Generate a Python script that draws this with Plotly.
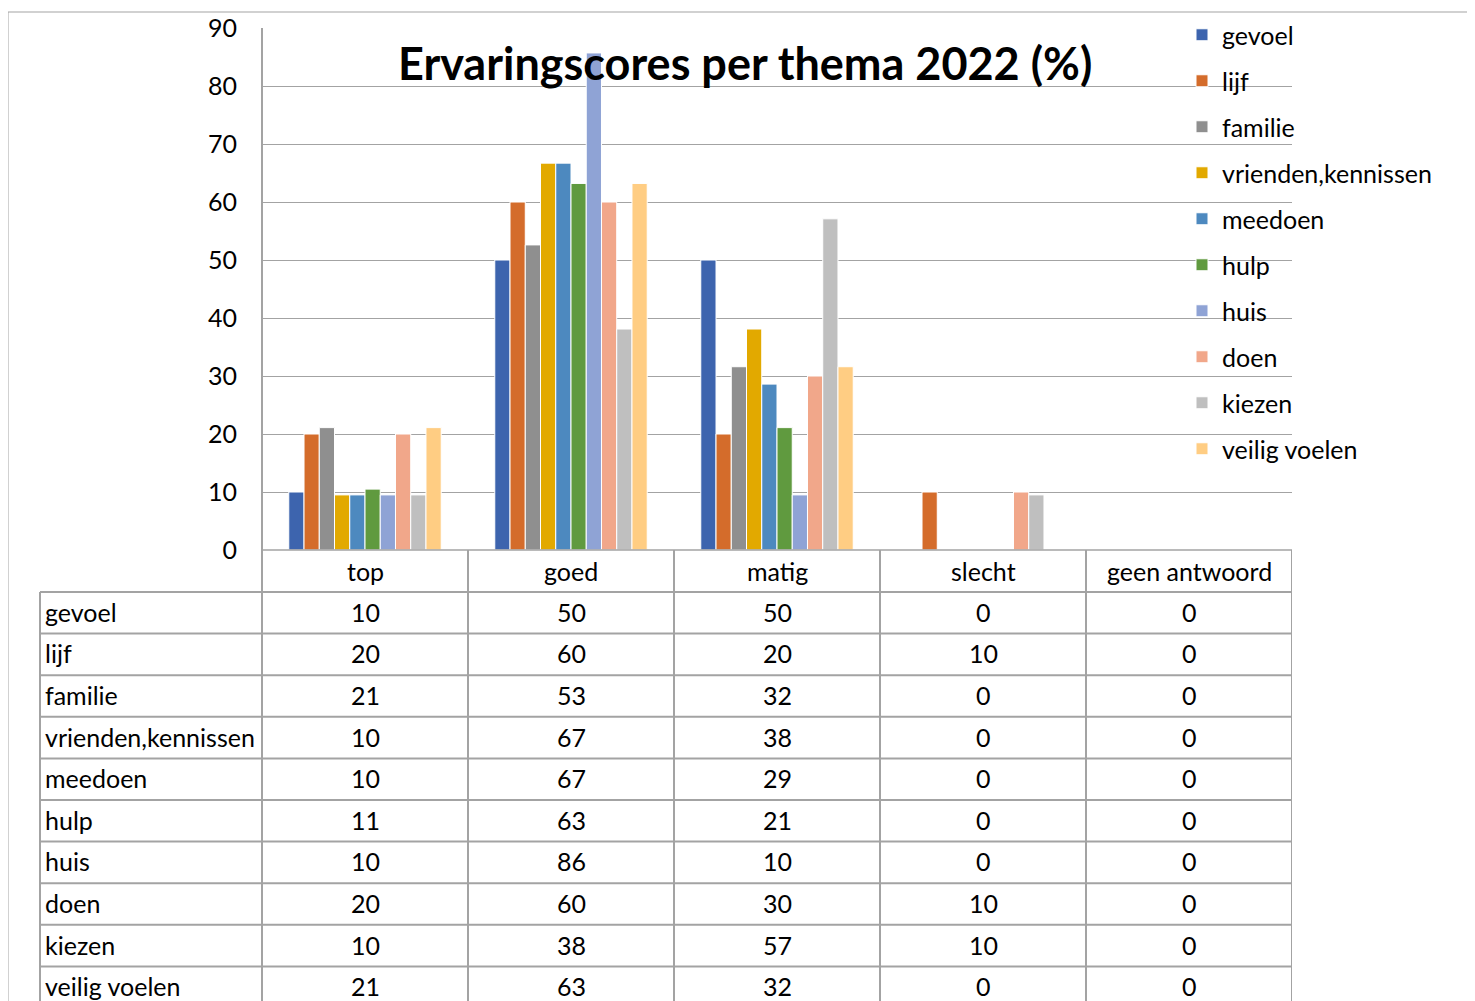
import math
import plotly.graph_objects as go

categories = ["top", "goed", "matig", "slecht", "geen antwoord"]
themes = ["gevoel", "lijf", "familie", "vrienden,kennissen", "meedoen",
          "hulp", "huis", "doen", "kiezen", "veilig voelen"]

gevoel = [10, 50, 50, 0, 0]
lijf = [20, 60, 20, 10, 0]
familie = [21.1, 52.6, 31.6, 0, 0]
vrienden = [9.5, 66.7, 38.1, 0, 0]
meedoen = [9.5, 66.7, 28.6, 0, 0]
hulp = [10.5, 63.2, 21.1, 0, 0]
huis = [9.5, 85.7, 9.5, 0, 0]
doen = [20, 60, 30, 10, 0]
kiezen = [9.5, 38.1, 57.1, 9.5, 0]
veilig = [21.1, 63.2, 31.6, 0, 0]

series = [gevoel, lijf, familie, vrienden, meedoen, hulp, huis, doen, kiezen, veilig]
colors = ["#3D64AE", "#D46C2B", "#8F8F8F", "#E2A900", "#4D89BF",
          "#609A3F", "#8FA3D5", "#F1A78A", "#BFBFBF", "#FFCD83"]

title_text = "Ervaringscores per thema 2022 (%)"
FONT = "Lato, Noto Sans, sans-serif"
FS = 25

OFF = 8  # page body margin
W, H = 1467, 993
PL, PR, PT, PB = 262, 1292, 28, 550  # plot area in screen pixels
ML = PL - OFF
MT = PT - OFF
MR = W - (PR - OFF)
MB = H - (PB - OFF)
PH = PB - PT
PW = PR - PL


def py(p):
    """screen pixel y -> paper y"""
    return (PB - p) / PH


def px(p):
    return (p - PL) / PW


fig = go.Figure()
for name, vals, col in zip(themes, series, colors):
    fig.add_trace(go.Bar(
        x=categories, y=vals, name=name, legendgroup=name,
        marker=dict(color=col, line=dict(color="white", width=1)),
    ))

grid = "#A3A3A3"
shapes = []
annotations = []

# outer chart border
shapes.append(dict(type="line", xref="paper", yref="paper", x0=px(8), x1=px(W + 20),
                   y0=py(12), y1=py(12), line=dict(color=grid, width=1)))
shapes.append(dict(type="line", xref="paper", yref="paper", x0=px(8), x1=px(8),
                   y0=py(12), y1=py(H + 20), line=dict(color=grid, width=1)))

# table geometry
header_top = 550
header_bot = 592
row_h = 41.6
n_rows = len(themes)
table_bottom = header_bot + row_h * n_rows

shapes.append(dict(type="line", xref="paper", yref="paper", x0=0, x1=1,
                   y0=py(header_top), y1=py(header_top), line=dict(color=grid, width=1.5)))
for k in range(n_rows + 1):
    yy = header_bot + row_h * k
    shapes.append(dict(type="line", xref="paper", yref="paper", x0=px(40), x1=1,
                       y0=py(yy), y1=py(yy), line=dict(color=grid, width=2)))
shapes.append(dict(type="line", xref="paper", yref="paper", x0=px(40), x1=px(40),
                   y0=py(header_bot), y1=py(table_bottom), line=dict(color=grid, width=2)))
shapes.append(dict(type="line", xref="paper", yref="paper", x0=0, x1=0,
                   y0=1, y1=py(table_bottom), line=dict(color=grid, width=2)))
for i in range(len(categories)):
    xb = i + 0.5
    shapes.append(dict(type="line", xref="x", yref="paper", x0=xb, x1=xb,
                       y0=py(header_top), y1=py(table_bottom), line=dict(color=grid, width=2)))

for c in categories:
    annotations.append(dict(x=c, xref="x", y=py((header_top + header_bot) / 2), yref="paper",
                            text=c, showarrow=False, xanchor="center", yanchor="middle",
                            font=dict(family=FONT, size=FS, color="#000")))

for k, (name, vals) in enumerate(zip(themes, series)):
    yc = py(header_bot + row_h * (k + 0.5) - 1)
    annotations.append(dict(x=px(43), xref="paper", y=yc, yref="paper", text=name,
                            showarrow=False, xanchor="left", yanchor="middle",
                            font=dict(family=FONT, size=FS, color="#000")))
    for c, v in zip(categories, vals):
        annotations.append(dict(x=c, xref="x", y=yc, yref="paper",
                                text=str(int(math.floor(v + 0.5))), showarrow=False,
                                xanchor="center", yanchor="middle",
                                font=dict(family=FONT, size=FS, color="#000")))

annotations.append(dict(x=px(745), xref="paper", y=py(63), yref="paper",
                        text=f"<b>{title_text}</b>", showarrow=False,
                        xanchor="center", yanchor="middle",
                        font=dict(family=FONT, size=45, color="#000")))

fig.update_layout(
    width=W, height=H,
    margin=dict(l=ML, r=MR, t=MT, b=MB, pad=0, autoexpand=False),
    paper_bgcolor="white", plot_bgcolor="white",
    barmode="group", bargap=0.26, bargroupgap=0,
    font=dict(family=FONT, size=FS, color="#000"),
    showlegend=True,
    legend=dict(x=px(1182), xanchor="left", y=py(12), yanchor="top",
                bgcolor="rgba(0,0,0,0)", font=dict(family=FONT, size=FS, color="#000"),
                tracegroupgap=10.5, traceorder="grouped", itemclick=False),
    shapes=shapes, annotations=annotations,
)
fig.update_xaxes(range=[-0.5, len(categories) - 0.5], showticklabels=False, showgrid=False,
                 zeroline=False, showline=False, fixedrange=True)
fig.update_yaxes(range=[0, 90], dtick=10, showgrid=True, gridcolor=grid, gridwidth=1,
                 zeroline=False, showline=False, ticks="", ticklabelstandoff=24,
                 tickfont=dict(family=FONT, size=FS, color="#000"), fixedrange=True)

fig.write_html("out.html")
